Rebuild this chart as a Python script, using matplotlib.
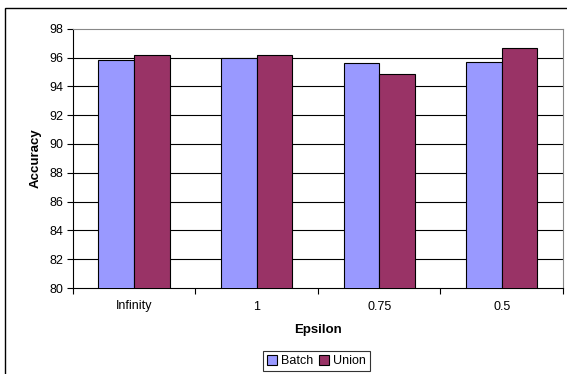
import numpy as np
import matplotlib.pyplot as plt
from matplotlib.patches import Rectangle

epsilons = ['Infinity', '1', '0.75', '0.5']
batch = [95.86, 95.95, 95.59, 95.66]
union = [96.14, 96.2, 94.87, 96.65]
y_ticks = [80, 82, 84, 86, 88, 90, 92, 94, 96, 98]

plt.rcParams['font.family'] = ['Liberation Sans', 'DejaVu Sans']

fig = plt.figure(figsize=(5.67, 3.74), dpi=100)
ax = fig.add_axes([72.7 / 567, 1 - 288 / 374, (563 - 72.7) / 567, (288 - 28.7) / 374])

x = np.arange(len(epsilons))
w = 0.29
ax.bar(x - w / 2, batch, width=w, color='#9999FF', edgecolor='black', linewidth=0.8,
       label='Batch', zorder=3)
ax.bar(x + w / 2, union, width=w, color='#993366', edgecolor='black', linewidth=0.8,
       label='Union', zorder=3)

ax.set_ylim(80, 98)
ax.set_xlim(-0.5, len(epsilons) - 0.5)
ax.set_yticks(y_ticks)
ax.set_yticklabels([str(t) for t in y_ticks], fontsize=9)
ax.tick_params(axis='y', direction='out', length=4, width=0.8, pad=3)

# category labels on major ticks, boundary marks on minor ticks
ax.set_xticks(x)
ax.set_xticklabels(epsilons, fontsize=9)
ax.set_xticks(np.arange(-0.5, len(epsilons)), minor=True)
ax.tick_params(axis='x', which='major', length=0, pad=9)
ax.tick_params(axis='x', which='minor', direction='out', length=4, width=0.8)

for t in y_ticks[1:-1]:
    ax.axhline(t, color='black', linewidth=0.8, zorder=1)

ax.spines['left'].set_color('black')
ax.spines['bottom'].set_color('black')
ax.spines['top'].set_color('#888888')
ax.spines['right'].set_color('#888888')
for s in ax.spines.values():
    s.set_linewidth(0.8)

ax.set_ylabel('Accuracy', fontsize=9.5, fontweight='bold', labelpad=5)
ax.set_xlabel('Epsilon', fontsize=9.5, fontweight='bold', labelpad=8)

leg = fig.legend(loc='center', bbox_to_anchor=(316.5 / 567, 1 - 361 / 374), ncol=2,
                 fontsize=9, frameon=True, fancybox=False, edgecolor='black',
                 handlelength=0.8, handleheight=0.8, handletextpad=0.3,
                 columnspacing=0.5, borderpad=0.35, borderaxespad=0)
leg.get_frame().set_linewidth(0.8)

# outer chart border
fig.patches.append(Rectangle((5 / 567, -0.1), 1.2, 1.1 - 8 / 374,
                             transform=fig.transFigure, fill=False,
                             edgecolor='black', linewidth=1.0))

fig.savefig('out.png', dpi=100)
